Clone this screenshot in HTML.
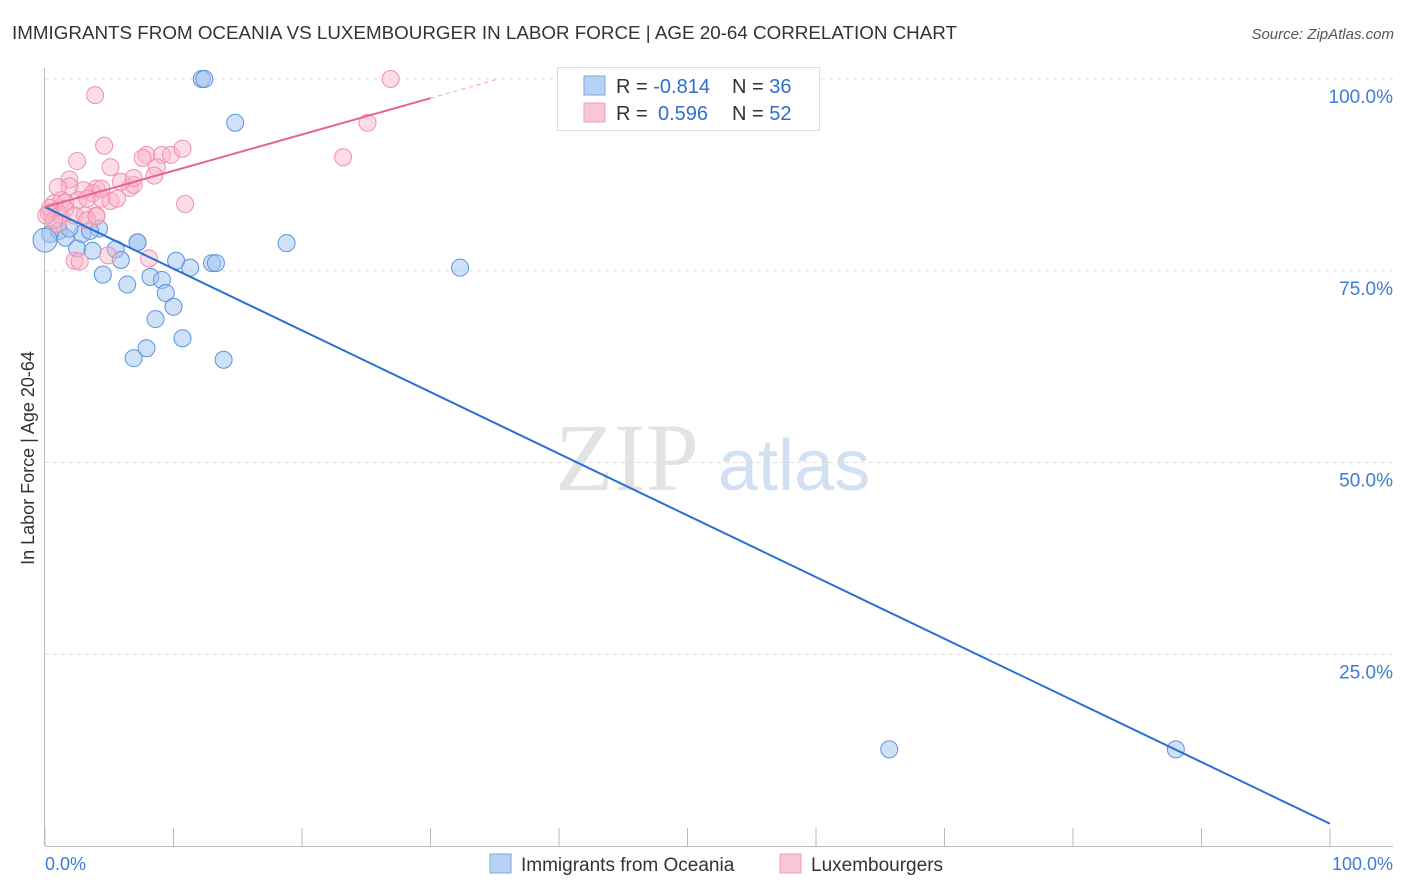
<!DOCTYPE html>
<html><head><meta charset="utf-8"><style>
body{margin:0;background:#fff;font-family:"Liberation Sans",sans-serif;}
#wrap{position:relative;width:1406px;height:892px;overflow:hidden;}
</style></head><body>
<div id="wrap">
<svg id="svg" width="1406" height="892" xmlns="http://www.w3.org/2000/svg">
<text x="12" y="39" font-size="18" fill="#333" textLength="945" lengthAdjust="spacingAndGlyphs">IMMIGRANTS FROM OCEANIA VS LUXEMBOURGER IN LABOR FORCE | AGE 20-64 CORRELATION CHART</text>
<text x="1394" y="39" font-size="15" fill="#555" font-style="italic" text-anchor="end">Source: ZipAtlas.com</text>
<text x="34" y="458" font-size="18" fill="#333" text-anchor="middle" transform="rotate(-90 34 458)">In Labor Force | Age 20-64</text>
<text x="555" y="490" font-size="96" fill="#e3e3e3" font-family="Liberation Serif,serif">ZIP</text>
<text x="718" y="490" font-size="72" fill="#d2e0f3">atlas</text>
<g id="grid"></g><g id="axes"></g><g id="pts"></g><g id="lines"></g>
<g>
<rect x="557.5" y="67.5" width="262" height="63" fill="#fff" stroke="#ddd"/>
<rect x="584" y="76" width="21" height="19" fill="#b8d2f4" stroke="#7ea6e0"/>
<rect x="584" y="103" width="21" height="19" fill="#f9c6d5" stroke="#eea0b8"/>
<text x="616" y="93" font-size="20" fill="#333">R = <tspan fill="#2f6fd0">-0.814</tspan></text>
<text x="732" y="93" font-size="20" fill="#333">N = <tspan fill="#2f6fd0">36</tspan></text>
<text x="616" y="120" font-size="20" fill="#333">R = <tspan fill="#2f6fd0" x="658">0.596</tspan></text>
<text x="732" y="120" font-size="20" fill="#333">N = <tspan fill="#2f6fd0">52</tspan></text>
</g>
<g>
<rect x="490" y="854" width="21" height="19" fill="#b8d2f4" stroke="#7ea6e0"/>
<text x="521" y="871" font-size="19" fill="#333">Immigrants from Oceania</text>
<rect x="780" y="854" width="21" height="19" fill="#f9c6d5" stroke="#eea0b8"/>
<text x="811" y="871" font-size="19" fill="#333">Luxembourgers</text>
</g>
<text x="45" y="870" font-size="18" fill="#3d7bd9">0.0%</text>
<text x="1393" y="870" font-size="18" fill="#3d7bd9" text-anchor="end">100.0%</text>
</svg>
</div>
<script>
const blueX=[12.2,12.4,14.8,18.8,32.3,7.2,0.4,1.1,1.6,2.5,2.9,3.7,4.2,4.5,5.5,5.9,6.4,7.2,8.2,8.6,9.1,9.4,10.0,10.2,10.7,7.9,6.9,11.3,13.0,13.3,13.9,65.7,88.0,0,1.9,3.5];
const blueY=[100,100,94.3,78.6,75.4,78.7,79.8,80.2,79.3,77.9,79.8,77.6,80.5,74.5,77.8,76.4,73.2,78.7,74.2,68.7,73.8,72.1,70.3,76.3,66.2,64.9,63.6,75.4,76.0,76.0,63.4,12.6,12.6,79.0,80.5,80.2];
const pinkX=[3.9,26.9,25.1,23.2,4.6,2.5,5.1,7.9,9.1,9.8,10.7,8.7,8.5,7.6,6.6,6.9,5.9,6.9,4.0,3.7,3.0,1.9,1.9,1.0,0.7,1.3,1.6,2.6,3.3,4.4,5.1,5.6,4.4,0.9,0.5,0.3,0.4,1.2,1.6,2.3,3.1,4.0,10.9,2.3,2.7,4.9,8.1,1.0,0.7,0.1,3.3,4.0];
const pinkY=[97.9,100,94.3,89.8,91.3,89.3,88.5,90.1,90.1,90.1,90.9,88.5,87.4,89.7,85.8,86.2,86.6,87.1,85.7,85.1,85.5,86.9,86.0,85.9,83.8,84.2,83.9,84.2,84.4,84.4,84.1,84.4,85.7,82.8,82.7,82.5,83.2,82.3,83.1,82.2,82.2,82.2,83.7,76.3,76.2,77.0,76.6,81.1,81.6,82.2,81.6,82.1];
const blueTrend=[83.3,2.9];
const pinkTrend=[83.3,97.5];
const yTicks=[100,75,50,25];
const yTickLabels=["100.0%","75.0%","50.0%","25.0%"];
const xTicks=[0,10,20,30,40,50,60,70,80,90,100];
const X=v=>45+v*12.85, Y=v=>846-v*7.67;
const NS="http://www.w3.org/2000/svg";
function mk(p,t,a){const e=document.createElementNS(NS,t);for(const k in a)e.setAttribute(k,a[k]);p.appendChild(e);return e;}
const grid=document.getElementById('grid'),axes=document.getElementById('axes'),pts=document.getElementById('pts'),lines=document.getElementById('lines');
yTicks.forEach((v,i)=>{
 const l=mk(grid,'line',{x1:45,x2:1393,y1:Y(v),y2:Y(v),stroke:'#ddd','stroke-dasharray':'4,4'});
 
 
 const t=mk(axes,'text',{x:1393,y:Y(v)+24,'font-size':19,fill:'#3d7bd9','text-anchor':'end'});
 t.textContent=yTickLabels[i];
 
 
});
const ya=mk(axes,'line',{x1:44.5,x2:44.5,y1:68,y2:846,stroke:'#bbb'});


const xa=mk(axes,'line',{x1:45,x2:1393,y1:846.5,y2:846.5,stroke:'#bbb'});


xTicks.forEach(v=>{const t=mk(axes,'line',{x1:X(v),x2:X(v),y1:828,y2:846,stroke:'#bbb'});
 
 });
blueX.forEach((x,i)=>{const c=mk(pts,'circle',{cx:X(x),cy:Y(blueY[i]),r:(x===0?12:8.5),fill:'rgba(160,195,240,0.5)',stroke:'#5b93e0','stroke-width':1});
 
 });
pinkX.forEach((x,i)=>{const c=mk(pts,'circle',{cx:X(x),cy:Y(pinkY[i]),r:8.5,fill:'rgba(248,180,200,0.45)',stroke:'#f090ae','stroke-width':1});
 
 });
const bl=mk(lines,'line',{x1:X(0),y1:Y(blueTrend[0]),x2:X(100),y2:Y(blueTrend[1]),stroke:'#2a6fd6','stroke-width':2});


const ps=(pinkTrend[1]-pinkTrend[0])/30;
const pl=mk(lines,'line',{x1:X(0),y1:Y(pinkTrend[0]),x2:X(30),y2:Y(pinkTrend[1]),stroke:'#e8638e','stroke-width':2});


const pd=mk(lines,'line',{x1:X(30),y1:Y(pinkTrend[1]),x2:X(35.4),y2:Y(pinkTrend[0]+ps*35.4),stroke:'#f0a0b8','stroke-width':1,'stroke-dasharray':'4,4'});


</script>
</body></html>
